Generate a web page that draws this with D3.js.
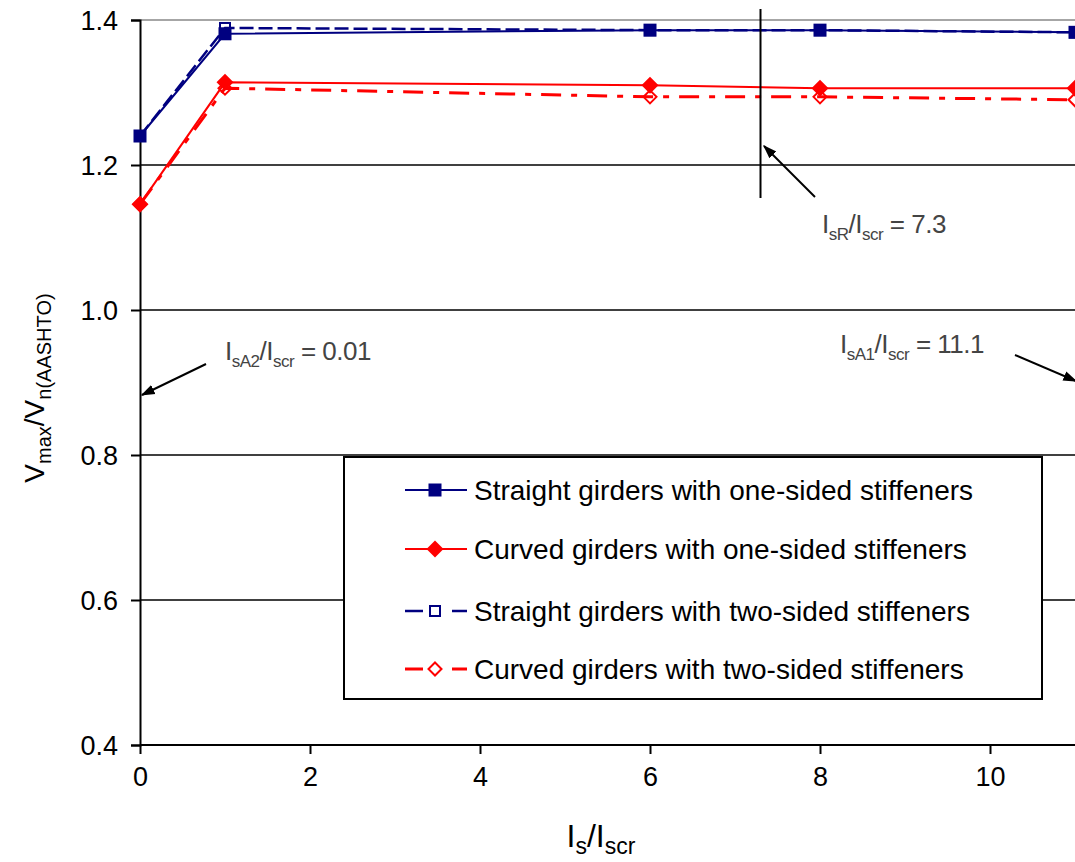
<!DOCTYPE html>
<html>
<head>
<meta charset="utf-8">
<script src="https://cdn.jsdelivr.net/npm/d3@7"></script>
<style>
  body { margin: 0; background: #fff; }
  svg { display: block; font-family: "Liberation Sans", Arial, sans-serif; }
</style>
</head>
<body>
<div id="chart"></div>
<script>
// data
var xVals = [0, 1, 6, 8, 11];
var straightOne = [1.240, 1.381, 1.386, 1.386, 1.383];
var curvedOne = [1.146, 1.314, 1.310, 1.306, 1.306];
var straightTwo = [1.240, 1.389, 1.386, 1.386, 1.383];
var curvedTwo = [1.146, 1.306, 1.294, 1.294, 1.290];
var yTicks = [0.4, 0.6, 0.8, 1.0, 1.2, 1.4];
var xTicks = [0, 2, 4, 6, 8, 10];
var legendNames = ["Straight girders with one-sided stiffeners",
  "Curved girders with one-sided stiffeners",
  "Straight girders with two-sided stiffeners",
  "Curved girders with two-sided stiffeners"];

var W = 1075, H = 862;
var navy = "#000080", red = "#ff0000";

var svg = d3.select("#chart").append("svg").attr("width", W).attr("height", H);

var x = d3.scaleLinear().domain([0, 11]).range([140, 1075]);
var y = d3.scaleLinear().domain([0.4, 1.4]).range([745, 20]);

// gridlines
svg.append("g").selectAll("line")
  .data(yTicks.filter(function (d) { return d > 0.4; }))
  .enter().append("line")
  .attr("x1", x(0)).attr("x2", W)
  .attr("y1", function (d) { return y(d); }).attr("y2", function (d) { return y(d); })
  .attr("stroke", function (d) { return d == 1.4 ? "#888" : "#000"; })
  .attr("stroke-width", 1.5);

// axes
var yAxis = d3.axisLeft(y).tickValues(yTicks).tickSize(9).tickPadding(13)
  .tickFormat(d3.format(".1f"));
var gy = svg.append("g").attr("transform", "translate(" + x(0) + ",0)").call(yAxis);
var xAxis = d3.axisBottom(x).tickValues(xTicks).tickSize(9).tickPadding(13)
  .tickFormat(d3.format("d"));
var gx = svg.append("g").attr("transform", "translate(0," + y(0.4) + ")").call(xAxis);
[gx, gy].forEach(function (g) {
  g.select(".domain").attr("stroke", "#000").attr("stroke-width", 2);
  g.selectAll(".tick line").attr("stroke", "#000").attr("stroke-width", 2);
  g.selectAll(".tick text").attr("font-size", 27).attr("fill", "#000")
    .style("font-family", "Liberation Sans, Arial, sans-serif");
});
gx.select(".domain").attr("d", "M140,0H" + W);
gy.selectAll(".tick text").attr("dy", "0.36em");

// series
var series = [
  { vals: straightOne, color: navy, dash: null, width: 2, marker: "sqFill" },
  { vals: curvedOne, color: red, dash: null, width: 2, marker: "diaFill" },
  { vals: straightTwo, color: navy, dash: "14,5", width: 2.5, marker: "sqOpen" },
  { vals: curvedTwo, color: red, dash: "20,10,6,10", width: 3, marker: "diaOpen" }
];

var line = d3.line()
  .x(function (d) { return x(d[0]); })
  .y(function (d) { return y(d[1]); });

function drawMarker(g, kind, color) {
  if (kind == "sqFill") {
    g.append("rect").attr("x", -6.5).attr("y", -6.5).attr("width", 13).attr("height", 13)
      .attr("fill", color);
  } else if (kind == "sqOpen") {
    g.append("rect").attr("x", -5).attr("y", -5).attr("width", 10).attr("height", 10)
      .attr("fill", "none").attr("stroke", color).attr("stroke-width", 2);
  } else if (kind == "diaFill") {
    g.append("path").attr("d", "M0,-8.5L8.5,0L0,8.5L-8.5,0Z").attr("fill", color);
  } else {
    g.append("path").attr("d", "M0,-6.5L6.5,0L0,6.5L-6.5,0Z")
      .attr("fill", "none").attr("stroke", color).attr("stroke-width", 2);
  }
}

// draw two-sided first, then one-sided on top
[3, 2, 1, 0].forEach(function (i) {
  var s = series[i];
  var pts = xVals.map(function (v, j) { return [v, s.vals[j]]; });
  svg.append("path").datum(pts)
    .attr("d", line)
    .attr("fill", "none")
    .attr("stroke", s.color)
    .attr("stroke-width", s.width)
    .attr("stroke-dasharray", s.dash);
  pts.forEach(function (p) {
    var g = svg.append("g").attr("transform", "translate(" + x(p[0]) + "," + y(p[1]) + ")");
    drawMarker(g, s.marker, s.color);
  });
});

// vertical marker line at 7.3
svg.append("line")
  .attr("x1", x(7.3)).attr("x2", x(7.3))
  .attr("y1", 9).attr("y2", 198)
  .attr("stroke", "#000").attr("stroke-width", 2);

// arrows
var defs = svg.append("defs");
defs.append("marker").attr("id", "arr")
  .attr("viewBox", "0 0 10 10").attr("refX", 9).attr("refY", 5)
  .attr("markerWidth", 7).attr("markerHeight", 7).attr("orient", "auto")
  .attr("markerUnits", "strokeWidth")
  .append("path").attr("d", "M0,1.5L10,5L0,8.5Z").attr("fill", "#000");

var arrows = [
  [815, 197, 764, 146],
  [206, 364, 142, 395],
  [1015, 355, 1076, 381]
];
svg.selectAll(".arrow").data(arrows).enter().append("line")
  .attr("x1", function (d) { return d[0]; }).attr("y1", function (d) { return d[1]; })
  .attr("x2", function (d) { return d[2]; }).attr("y2", function (d) { return d[3]; })
  .attr("stroke", "#000").attr("stroke-width", 2)
  .attr("marker-end", "url(#arr)");

// annotation texts
function ratioLabel(px, py, sub, val) {
  var t = svg.append("text").attr("x", px).attr("y", py)
    .attr("font-size", 26).attr("fill", "#444").attr("letter-spacing", -0.5);
  t.append("tspan").text("I");
  t.append("tspan").attr("dy", 7).attr("font-size", 17).text(sub);
  t.append("tspan").attr("dy", -7).text("/I");
  t.append("tspan").attr("dy", 7).attr("font-size", 17).text("scr");
  t.append("tspan").attr("dy", -7).text(" = " + val);
}
ratioLabel(822, 233, "sR", "7.3");
ratioLabel(225, 360, "sA2", "0.01");
ratioLabel(840, 353, "sA1", "11.1");

// legend
svg.append("rect")
  .attr("x", 344).attr("y", 457).attr("width", 698).attr("height", 242)
  .attr("fill", "#fff").attr("stroke", "#000").attr("stroke-width", 2);

var legendY = [490, 549, 611, 669];
legendNames.forEach(function (name, i) {
  var s = series[i];
  var ly = legendY[i];
  if (s.dash) {
    svg.append("line").attr("x1", 405).attr("x2", 423).attr("y1", ly).attr("y2", ly)
      .attr("stroke", s.color).attr("stroke-width", s.width);
    svg.append("line").attr("x1", 452).attr("x2", 467).attr("y1", ly).attr("y2", ly)
      .attr("stroke", s.color).attr("stroke-width", s.width);
  } else {
    svg.append("line").attr("x1", 405).attr("x2", 467).attr("y1", ly).attr("y2", ly)
      .attr("stroke", s.color).attr("stroke-width", 2);
  }
  var g = svg.append("g").attr("transform", "translate(435," + ly + ")");
  drawMarker(g, s.marker, s.color);
  svg.append("text").attr("x", 474).attr("y", ly + 10)
    .attr("font-size", 28).attr("fill", "#000").text(name);
});

// axis titles
var yl = svg.append("text")
  .attr("transform", "translate(44,388) rotate(-90)")
  .attr("text-anchor", "middle").attr("font-size", 28).attr("fill", "#000");
yl.append("tspan").text("V");
yl.append("tspan").attr("dy", 7).attr("font-size", 20).text("max");
yl.append("tspan").attr("dy", -7).text("/V");
yl.append("tspan").attr("dy", 7).attr("font-size", 20).text("n(AASHTO)");

var xl = svg.append("text")
  .attr("x", 601).attr("y", 847)
  .attr("text-anchor", "middle").attr("font-size", 32).attr("fill", "#000");
xl.append("tspan").text("I");
xl.append("tspan").attr("dy", 7).attr("font-size", 23).text("s");
xl.append("tspan").attr("dy", -7).text("/I");
xl.append("tspan").attr("dy", 7).attr("font-size", 23).text("scr");
</script>
</body>
</html>
